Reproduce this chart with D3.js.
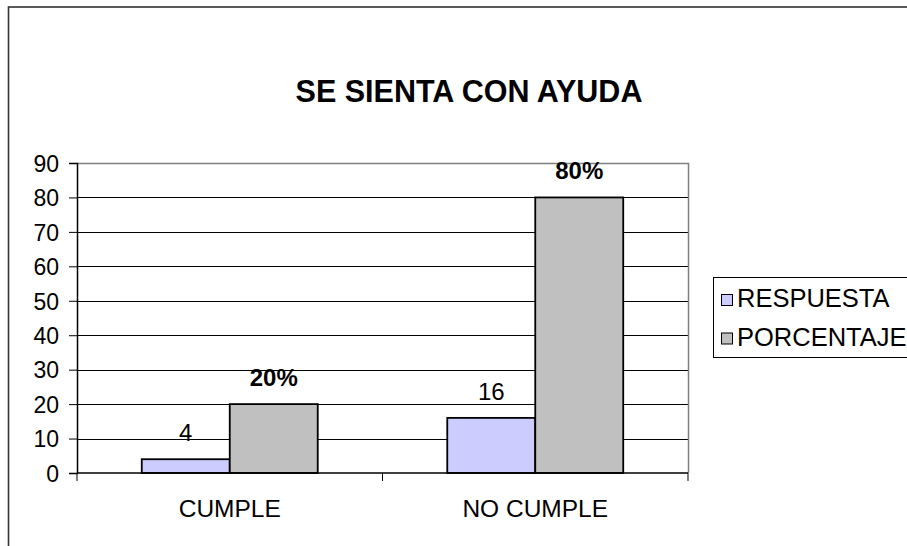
<!DOCTYPE html>
<html><head><meta charset="utf-8">
<script src="https://cdn.jsdelivr.net/npm/d3@7"></script>
<style>
html,body{margin:0;padding:0;background:#fff;}
svg{display:block;font-family:"Liberation Sans",Arial,sans-serif;}
</style></head>
<body><svg id="chart" width="907" height="546"></svg>
<script>
const title = "SE SIENTA CON AYUDA";
const categories = ["CUMPLE", "NO CUMPLE"];
const seriesNames = ["RESPUESTA", "PORCENTAJE"];
const respuesta = [4, 16];
const porcentaje = [20, 80];
const respuestaLabels = ["4", "16"];
const porcentajeLabels = ["20%", "80%"];
const yTicks = [0, 10, 20, 30, 40, 50, 60, 70, 80, 90];
const colors = ["#CCCCFF", "#C0C0C0"];

const svg = d3.select("#chart");
const plot = {left: 77, right: 688, top: 163, bottom: 473};

// outer frame
svg.append("rect").attr("x", 8.5).attr("y", 7).attr("width", 920).attr("height", 560)
  .attr("fill", "#fff").attr("stroke", "#333").attr("stroke-width", 1.6);

const x0 = d3.scaleBand().domain(categories).range([plot.left, plot.right])
  .paddingInner(0.424).paddingOuter(0.212);
const x1 = d3.scaleBand().domain(seriesNames).range([0, x0.bandwidth()]);
const y = d3.scaleLinear().domain([0, 90]).range([plot.bottom, plot.top]);
const xCat = d3.scaleBand().domain(categories).range([plot.left, plot.right]);

// gridlines
svg.append("g").selectAll("line").data(yTicks.filter(d => d > 0 && d < 90)).join("line")
  .attr("x1", plot.left).attr("x2", plot.right)
  .attr("y1", d => Math.round(y(d)) + 0.5).attr("y2", d => Math.round(y(d)) + 0.5)
  .attr("stroke", "#000").attr("stroke-width", 1);

// plot area border (top & right)
svg.append("path")
  .attr("d", `M${plot.left},${plot.top + 0.5}H${plot.right + 0.5}V${plot.bottom}`)
  .attr("fill", "none").attr("stroke", "#808080").attr("stroke-width", 1.5);

// bars
const data = categories.map((c, i) => ({cat: c, vals: [respuesta[i], porcentaje[i]],
  labels: [respuestaLabels[i], porcentajeLabels[i]]}));
const groups = svg.append("g").selectAll("g").data(data).join("g")
  .attr("transform", d => `translate(${x0(d.cat)},0)`);
groups.selectAll("rect").data(d => d.vals.map((v, j) => ({v, s: seriesNames[j], j}))).join("rect")
  .attr("x", d => x1(d.s)).attr("width", x1.bandwidth())
  .attr("y", d => y(d.v)).attr("height", d => y(0) - y(d.v))
  .attr("fill", d => colors[d.j]).attr("stroke", "#000").attr("stroke-width", 1.8);
groups.selectAll("text").data(d => d.vals.map((v, j) => ({v, s: seriesNames[j], j, label: d.labels[j]}))).join("text")
  .attr("x", d => x1(d.s) + x1.bandwidth() / 2).attr("y", d => y(d.v) - 18)
  .attr("text-anchor", "middle")
  .attr("font-size", 24)
  .attr("font-weight", d => d.j === 1 ? "bold" : "normal")
  .attr("fill", "#000").text(d => d.label);

// y axis
const yAxis = d3.axisLeft(y).tickValues(yTicks).tickSize(8).tickPadding(10);
const gy = svg.append("g").attr("transform", `translate(${plot.left},0)`).call(yAxis);
gy.select(".domain").attr("stroke", "#000").attr("stroke-width", 1.5);
gy.selectAll(".tick line").attr("stroke", "#000").attr("stroke-width", 1);
gy.selectAll(".tick text").attr("font-size", 23).attr("font-family", "Liberation Sans, Arial, sans-serif")
  .attr("fill", "#000").attr("dy", "0.36em");

// x axis
const gx = svg.append("g").attr("transform", `translate(0,${plot.bottom})`);
gx.append("line").attr("x1", plot.left).attr("x2", plot.right).attr("y1", 0).attr("y2", 0)
  .attr("stroke", "#000").attr("stroke-width", 1.5);
const xTickPos = [plot.left, ...categories.map(c => xCat(c) + xCat.bandwidth())];
gx.selectAll("line.tk").data(xTickPos).join("line").attr("class", "tk")
  .attr("x1", d => d).attr("x2", d => d).attr("y1", 0).attr("y2", 8)
  .attr("stroke", "#000").attr("stroke-width", 1);
gx.selectAll("text").data(categories).join("text")
  .attr("x", d => xCat(d) + xCat.bandwidth() / 2).attr("y", 44)
  .attr("text-anchor", "middle").attr("font-size", 24.5).attr("fill", "#000").text(d => d);

// title
svg.append("text").attr("x", 469).attr("y", 102).attr("text-anchor", "middle")
  .attr("font-size", 30.5).attr("font-weight", "bold").attr("fill", "#000").text(title);

// legend
const lg = svg.append("g").attr("transform", "translate(713,277)");
lg.append("rect").attr("x", 0.5).attr("y", 0.5).attr("width", 210).attr("height", 80)
  .attr("fill", "#fff").attr("stroke", "#000").attr("stroke-width", 1);
const items = lg.selectAll("g").data(seriesNames).join("g")
  .attr("transform", (d, i) => `translate(0,${i * 38.5})`);
items.append("rect").attr("x", 8.5).attr("y", 17.5).attr("width", 11).attr("height", 11)
  .attr("fill", (d, i) => colors[i]).attr("stroke", "#000").attr("stroke-width", 1);
items.append("text").attr("x", 24).attr("y", 30).attr("font-size", 25.5).attr("fill", "#000").text(d => d);
</script></body></html>
